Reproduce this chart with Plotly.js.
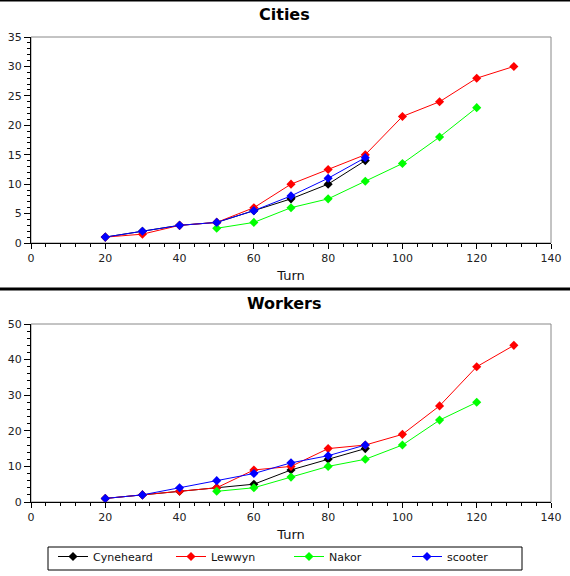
<!DOCTYPE html>
<html>
<head>
<meta charset="utf-8">
<script src="https://cdn.plot.ly/plotly-3.0.1.min.js"></script>
<style>html,body{margin:0;padding:0;background:#fff;}#chart{width:570px;height:576px;}</style>
</head>
<body>
<div id="chart"></div>
<script>
// ---- data ----
const players = ["Cyneheard", "Lewwyn", "Nakor", "scooter"];
const colors = ["#000000", "#ff0000", "#00ff00", "#0000ff"];

const cynTurns = [20, 30, 40, 50, 60, 70, 80, 90];
const lewTurns = [20, 30, 40, 50, 60, 70, 80, 90, 100, 110, 120, 130];
const nakTurns = [50, 60, 70, 80, 90, 100, 110, 120];
const scoTurns = [20, 30, 40, 50, 60, 70, 80, 90];

const cynCities = [1, 2, 3, 3.5, 5.5, 7.5, 10, 14];
const lewCities = [1, 1.5, 3, 3.5, 6, 10, 12.5, 15, 21.5, 24, 28, 30];
const nakCities = [2.5, 3.5, 6, 7.5, 10.5, 13.5, 18, 23];
const scoCities = [1, 2, 3, 3.5, 5.5, 8, 11, 14.5];

const cynWorkers = [1, 2, 3, 4, 5, 9, 12, 15];
const lewWorkers = [1, 2, 3, 4, 9, 10, 15, 16, 19, 27, 38, 44];
const nakWorkers = [3, 4, 7, 10, 12, 16, 23, 28];
const scoWorkers = [1, 2, 4, 6, 8, 11, 13, 16];

const xTicks = [0, 20, 40, 60, 80, 100, 120, 140];

// ---- build ----
const turns = [cynTurns, lewTurns, nakTurns, scoTurns];
const cities = [cynCities, lewCities, nakCities, scoCities];
const workers = [cynWorkers, lewWorkers, nakWorkers, scoWorkers];

const traces = [];
players.forEach((p, i) => {
  traces.push({
    x: turns[i], y: cities[i], xaxis: 'x', yaxis: 'y', name: p, type: 'scatter', mode: 'lines+markers',
    line: {color: colors[i], width: 1}, marker: {symbol: 'diamond', size: 7, color: colors[i]},
    showlegend: false
  });
});
players.forEach((p, i) => {
  traces.push({
    x: turns[i], y: workers[i], xaxis: 'x2', yaxis: 'y2', name: p, type: 'scatter', mode: 'lines+markers',
    line: {color: colors[i], width: 1}, marker: {symbol: 'diamond', size: 7, color: colors[i]},
    showlegend: true
  });
});

const font = {family: 'DejaVu Sans, sans-serif', size: 11, color: '#222'};

function xax(anchor) {
  return {
    anchor: anchor, domain: [0, 1], range: [0, 140], tickvals: xTicks,
    showgrid: false, zeroline: false, showline: true, linecolor: '#000', linewidth: 1,
    ticks: 'outside', ticklen: 5, tickcolor: '#000', tickfont: font,
    minor: {dtick: 4, ticks: 'outside', ticklen: 3, tickcolor: '#000', showgrid: false},
    title: {text: 'Turn', font: {family: 'DejaVu Sans, sans-serif', size: 13, color: '#111'}, standoff: 6},
    fixedrange: true
  };
}
function yax(anchor, domain, range, dtick, minor) {
  return {
    anchor: anchor, domain: domain, range: range, dtick: dtick,
    showgrid: false, zeroline: false, showline: true, linecolor: '#000', linewidth: 1,
    ticks: 'outside', ticklen: 6, tickcolor: '#000', tickfont: font,
    minor: {dtick: minor, ticks: 'outside', ticklen: 3, tickcolor: '#000', showgrid: false},
    fixedrange: true
  };
}
function yinner(overlay, anchor, range, dtick) {
  return {
    overlaying: overlay, anchor: anchor, range: range, dtick: dtick, side: 'left',
    showgrid: false, zeroline: false, showline: false, showticklabels: false,
    ticks: 'inside', ticklen: 6, tickcolor: '#000', fixedrange: true
  };
}

const topDom = [259 / 465, 1];
const botDom = [0, 178 / 465];

const layout = {
  width: 570, height: 576,
  margin: {l: 31, r: 19, t: 37, b: 74, autoexpand: false},
  paper_bgcolor: '#fff', plot_bgcolor: '#fff',
  font: font,
  showlegend: true,
  xaxis: xax('y'),
  yaxis: yax('x', topDom, [0, 35], 5, 1),
  xaxis2: xax('y2'),
  yaxis2: yax('x2', botDom, [0, 50], 10, 2),
  yaxis3: yinner('y', 'x', [0, 35], 5),
  yaxis4: yinner('y2', 'x2', [0, 50], 10),
  legend: {
    orientation: 'h', x: 22 / 520, y: (502 - 542) / 465, xanchor: 'left', yanchor: 'top',
    borderwidth: 0, bgcolor: 'rgba(0,0,0,0)',
    entrywidth: 73, entrywidthmode: 'pixels', itemclick: false,
    font: {family: 'DejaVu Sans, sans-serif', size: 11, color: '#111'}
  },
  annotations: [
    {text: '<b>Cities</b>', xref: 'paper', yref: 'paper', x: (284 - 31) / 520, y: (502 - 15) / 465,
     xanchor: 'center', yanchor: 'middle', showarrow: false,
     font: {family: 'DejaVu Sans, sans-serif', size: 16, color: '#000'}},
    {text: '<b>Workers</b>', xref: 'paper', yref: 'paper', x: (284 - 31) / 520, y: (502 - 303) / 465,
     xanchor: 'center', yanchor: 'middle', showarrow: false,
     font: {family: 'DejaVu Sans, sans-serif', size: 16, color: '#000'}}
  ],
  shapes: [
    {type: 'rect', xref: 'x domain', yref: 'y domain', x0: 0, x1: 1, y0: 0, y1: 1,
     line: {color: '#888', width: 1}, layer: 'below'},
    {type: 'rect', xref: 'x2 domain', yref: 'y2 domain', x0: 0, x1: 1, y0: 0, y1: 1,
     line: {color: '#888', width: 1}, layer: 'below'},
    {type: 'line', xref: 'paper', yref: 'paper', x0: -31 / 520, x1: 539 / 520,
     y0: (502 - 0.5) / 465, y1: (502 - 0.5) / 465, line: {color: '#000', width: 2}},
    {type: 'line', xref: 'paper', yref: 'paper', x0: -31 / 520, x1: 539 / 520,
     y0: (502 - 289) / 465, y1: (502 - 289) / 465, line: {color: '#000', width: 3}},
    {type: 'rect', xref: 'paper', yref: 'paper', x0: (48 - 31) / 520, x1: (522 - 31) / 520,
     y0: (502 - 547) / 465, y1: (502 - 570) / 465, line: {color: '#000', width: 1}}
  ]
};

Plotly.newPlot('chart', traces, layout, {displayModeBar: false, staticPlot: true});
</script>
</body>
</html>
